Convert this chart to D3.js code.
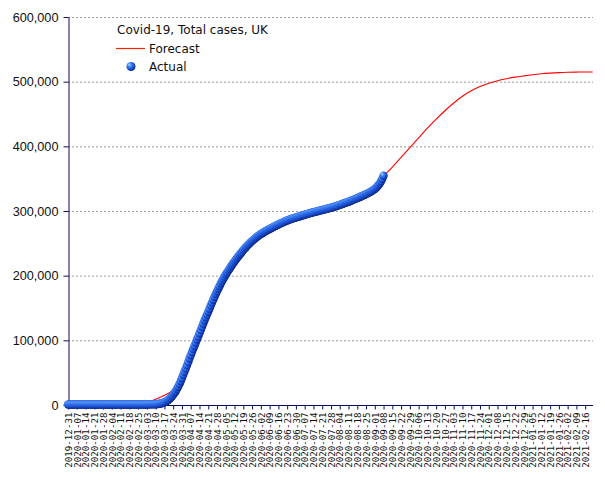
<!DOCTYPE html>
<html>
<head>
<meta charset="utf-8">
<script src="https://cdn.jsdelivr.net/npm/d3@7"></script>
<style>
  html, body { margin: 0; padding: 0; background: #fff; }
  svg { display: block; }
</style>
</head>
<body>
<div id="chart"></div>
<script>
// ---------- DATA ----------
const chartTitle = "Covid-19, Total cases, UK";
const seriesNames = ["Forecast", "Actual"];

// Actual daily cumulative cases, first value is 2019-12-31
const actualStart = "2019-12-31";
const actualValues = [
  // Dec 31 - Jan 30
  0,0,0,0,0,0,0,0,0,0,0,0,0,0,0,0,0,0,0,0,0,0,0,0,0,0,0,0,0,0,0,
  // Jan 31
  2,
  // Feb 1 - Feb 29
  2,2,2,2,2,3,3,3,3,8,8,9,9,9,9,9,9,9,9,9,9,9,9,13,13,13,15,20,23,
  // Mar 1 - Mar 31
  40,51,87,116,164,209,278,321,383,460,590,800,1140,1500,2000,2650,3400,4350,5500,6900,
  8500,10400,12600,15000,17700,20600,23900,27500,31500,36000,40500,
  // Apr 1 - Apr 30
  45500,50500,55500,60500,65500,71000,76000,81000,86000,90500,95500,100500,105000,110000,115000,
  120000,125000,130000,134500,139000,143500,148000,153000,157500,162000,166500,171000,175000,179000,183000,
  // May 1 - May 31
  187000,190500,194000,197500,201000,204000,207000,210000,213000,215800,218600,221300,224000,226600,229100,
  231600,234000,236400,238700,241000,243200,245300,247300,249200,251100,252900,254600,256300,257900,259400,260900,
  // Jun 1 - Jun 30
  262300,263600,264900,266100,267300,268400,269500,270500,271500,272500,273500,274500,275500,276500,277500,
  278400,279300,280200,281100,282000,282900,283800,284600,285400,286100,286800,287400,288000,288600,289200,
  // Jul 1 - Jul 31
  289800,290400,291000,291600,292200,292800,293400,294000,294600,295200,295800,296300,296800,297300,297800,
  298300,298800,299300,299800,300300,300800,301300,301800,302300,302800,303300,303800,304300,304900,305500,306100,
  // Aug 1 - Aug 31
  306700,307300,308000,308700,309400,310100,310800,311500,312200,312900,313600,314400,315200,316000,316800,
  317600,318400,319200,320000,320800,321700,322600,323500,324400,325300,326300,327300,328400,329500,330700,331900,
  // Sep 1 - Sep 8
  333300,335000,337000,339300,342000,345200,349100,353800
];

// Week tick labels on the x axis
const tickLabels = [
  "2019-12-31","2020-01-07","2020-01-14","2020-01-21","2020-01-28","2020-02-04","2020-02-11","2020-02-18",
  "2020-02-25","2020-03-03","2020-03-10","2020-03-17","2020-03-24","2020-03-31","2020-04-07","2020-04-14",
  "2020-04-21","2020-04-28","2020-05-05","2020-05-12","2020-05-19","2020-05-26","2020-06-02","2020-06-09",
  "2020-06-16","2020-06-23","2020-06-30","2020-07-07","2020-07-14","2020-07-21","2020-07-28","2020-08-04",
  "2020-08-11","2020-08-18","2020-08-25","2020-09-01","2020-09-08","2020-09-15","2020-09-22","2020-09-29",
  "2020-10-06","2020-10-13","2020-10-20","2020-10-27","2020-11-03","2020-11-10","2020-11-17","2020-11-24",
  "2020-12-01","2020-12-08","2020-12-15","2020-12-22","2020-12-29","2021-01-05","2021-01-12","2021-01-19",
  "2021-01-26","2021-02-02","2021-02-09","2021-02-16"
];

// Forecast, sampled weekly (same dates as tick labels) plus the last day
const forecastDates = tickLabels.concat(["2021-02-22"]);
const forecastValues = [
  0,0,0,0,0,0,50,200,
  700,4000,9000,15000,23000,38000,73000,108000,
  142000,174000,200000,221000,238000,251500,262500,271000,
  278000,284000,289000,293000,297000,300500,304500,309000,
  314500,321000,329000,339000,354000,368000,383000,398000,
  413000,428000,442000,455000,467000,477500,486000,492500,
  497500,501500,504500,507000,509000,510800,512200,513200,
  514000,514500,514800,515000,515000
];

const yTicks = [0,100000,200000,300000,400000,500000,600000];

// ---------- CHART ----------
const W = 605, H = 480;
const parse = d3.utcParse("%Y-%m-%d");
const startDate = parse(actualStart);

const actual = actualValues.map((v, i) => ({ date: d3.utcDay.offset(startDate, i), value: v }));
const forecast = forecastDates.map((d, i) => ({ date: parse(d), value: forecastValues[i] }));

const x = d3.scaleUtc()
  .domain([parse("2019-12-31"), parse("2021-02-22")])
  .range([68, 592.7]);
const y = d3.scaleLinear().domain([0, 600000]).range([405, 17]);

const svg = d3.select("#chart").append("svg")
  .attr("width", W).attr("height", H)
  .attr("viewBox", `0 0 ${W} ${H}`);

const defs = svg.append("defs");
const grad = defs.append("radialGradient").attr("id", "ball")
  .attr("cx", "40%").attr("cy", "40%").attr("r", "65%")
  .attr("fx", "30%").attr("fy", "28%");
grad.append("stop").attr("offset", "0%").attr("stop-color", "#b8d8ff");
grad.append("stop").attr("offset", "30%").attr("stop-color", "#4a8cf5");
grad.append("stop").attr("offset", "65%").attr("stop-color", "#1c55dc");
grad.append("stop").attr("offset", "100%").attr("stop-color", "#0a1f78");

// grid
svg.append("g").selectAll("line").data(yTicks.filter(d => d > 0)).join("line")
  .attr("x1", 68).attr("x2", 593)
  .attr("y1", d => y(d) + 0.5).attr("y2", d => y(d) + 0.5)
  .attr("stroke", "#9a9a9a").attr("stroke-width", 1)
  .attr("stroke-dasharray", "2,2");

// axes
const axisColor = "#0b0b5e";
const xAxis = d3.axisBottom(x)
  .tickValues(tickLabels.map(parse))
  .tickFormat(d3.utcFormat("%Y-%m-%d"))
  .tickSize(4).tickSizeOuter(0);
const gx = svg.append("g").attr("transform", "translate(0,405.5)").call(xAxis);
gx.select(".domain").attr("stroke", axisColor).attr("d", "M68,0H593");
gx.selectAll(".tick line").attr("stroke", axisColor);
gx.selectAll(".tick text")
  .attr("font-family", "'DejaVu Sans Mono', monospace")
  .attr("font-size", "9.2px")
  .attr("fill", "#111")
  .attr("text-anchor", "end")
  .attr("transform", "translate(0,7) rotate(-90)")
  .attr("x", 0).attr("y", 0).attr("dy", "0.35em");

const yAxis = d3.axisLeft(y).tickValues(yTicks).tickFormat(d3.format(","))
  .tickSize(5).tickPadding(5).tickSizeOuter(0);
const gy = svg.append("g").attr("transform", "translate(68.5,0)").call(yAxis);
gy.select(".domain").attr("stroke", axisColor);
gy.selectAll(".tick line").attr("stroke", axisColor);
gy.selectAll(".tick text")
  .attr("font-family", "'Liberation Sans', Arial, sans-serif")
  .attr("font-size", "12.7px")
  .attr("fill", "#111");

// forecast line
const line = d3.line().x(d => x(d.date)).y(d => y(d.value)).curve(d3.curveMonotoneX);
svg.append("path").datum(forecast)
  .attr("d", line)
  .attr("fill", "none").attr("stroke", "#ff0000").attr("stroke-width", 1.1);

// actual markers
svg.append("g").selectAll("circle").data(actual).join("circle")
  .attr("cx", d => x(d.date)).attr("cy", d => y(d.value) - 0.5)
  .attr("r", 4.2)
  .attr("fill", "url(#ball)");

// legend
const lg = svg.append("g").attr("font-family", "'DejaVu Sans', sans-serif").attr("font-size", "12px").attr("fill", "#111");
lg.append("text").attr("x", 117).attr("y", 34).text(chartTitle);
lg.append("line").attr("x1", 116).attr("x2", 145).attr("y1", 48.5).attr("y2", 48.5)
  .attr("stroke", "#ff2000").attr("stroke-width", 1.2);
lg.append("text").attr("x", 149).attr("y", 52.5).text(seriesNames[0]);
lg.append("circle").attr("cx", 131).attr("cy", 66.5).attr("r", 4.5).attr("fill", "url(#ball)");
lg.append("text").attr("x", 149).attr("y", 71).text(seriesNames[1]);
</script>
</body>
</html>
